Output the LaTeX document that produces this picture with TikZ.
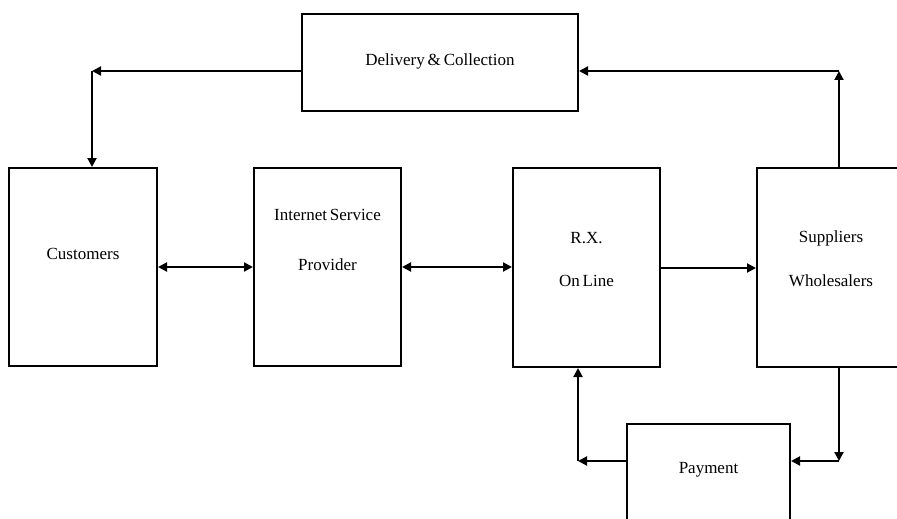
\documentclass[tikz,border=0pt]{standalone}
\usepackage{fontspec}
\setmainfont{Liberation Serif}
\usetikzlibrary{arrows.meta}
\begin{document}
\begin{tikzpicture}[x=1pt,y=-1pt,
  box/.style={draw,line width=2pt,inner sep=0pt},
  lbl/.style={inner sep=0pt,font=\fontsize{17}{20}\selectfont},
  flow/.style={line width=2pt,-{Triangle[length=9pt,width=9pt]}},
  both/.style={line width=2pt,{Triangle[length=9pt,width=9pt]}-{Triangle[length=9pt,width=9pt]}}]
\useasboundingbox (0,0) rectangle (897,519);
% boxes
\node[box,minimum width=276pt,minimum height=97pt] (del) at (440,62.5) {};
\node[box,minimum width=148pt,minimum height=198pt] (cus) at (83,267) {};
\node[box,minimum width=147pt,minimum height=198pt] (isp) at (327.5,267) {};
\node[box,minimum width=147pt,minimum height=199pt] (rx) at (586.5,267.5) {};
\node[box,minimum width=150pt,minimum height=199pt] (sup) at (832,267.5) {};
\node[box,minimum width=163pt,minimum height=102pt] (pay) at (708.5,475) {};
% labels
\node[lbl] (tdel) at (440,61) {Delivery\,\&\,Collection};
\node[lbl] (tcus) at (83,254) {Customers};
\node[lbl] (tisp1) at (327.5,215) {Internet\,Service};
\node[lbl] (tisp2) at (327.5,265) {Provider};
\node[lbl] (trx1) at (586.5,238) {R.X.};
\node[lbl] (trx2) at (586.5,281) {On\,Line};
\node[lbl] (tsup1) at (831,238) {Suppliers};
\node[lbl] (tsup2) at (831,281) {Wholesalers};
\node[lbl] (tpay) at (708.5,470) {Payment};
% bend points and the level of the middle row of arrows
\coordinate (c1) at (92,71);
\coordinate (c2) at (839,71);
\coordinate (c3) at (839,461);
\coordinate (c4) at (578,461);
\coordinate (mid) at (0,267);
\coordinate (mid2) at (0,268);
% connectors
\draw[flow] (del.west |- c1) -- (c1);
\draw[flow] (c1) -- (c1 |- cus.north);
\draw[flow] (c2 |- sup.north) -- (c2);
\draw[flow] (c2) -- (del.east |- c2);
\draw[flow] (c3 |- sup.south) -- (c3);
\draw[flow] (c3) -- (pay.east |- c3);
\draw[flow] (pay.west |- c4) -- (c4);
\draw[flow] (c4) -- (c4 |- rx.south);
\draw[both] (cus.east |- mid) -- (isp.west |- mid);
\draw[both] (isp.east |- mid) -- (rx.west |- mid);
\draw[flow] (rx.east |- mid2) -- (sup.west |- mid2);
\end{tikzpicture}
\end{document}
